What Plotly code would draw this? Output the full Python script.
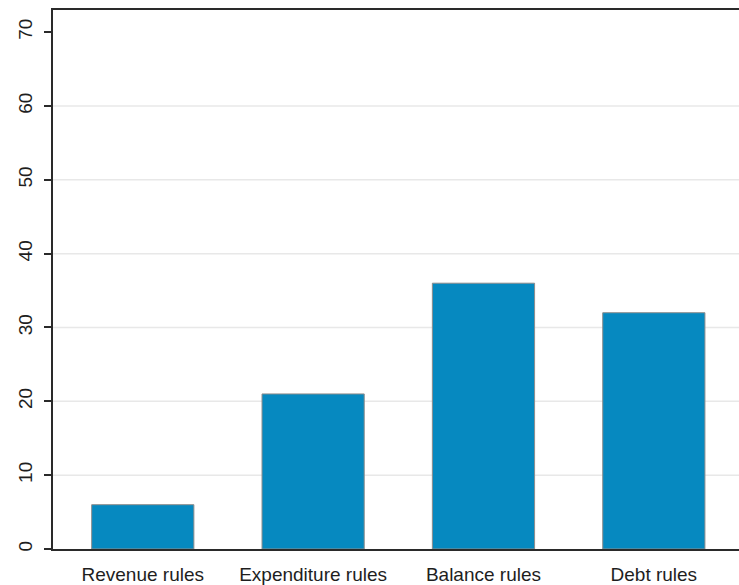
import plotly.graph_objects as go

# Number of rules by type
categories = ["Revenue rules", "Expenditure rules", "Balance rules", "Debt rules"]
counts = [6, 21, 36, 32]

y_ticks = [0, 10, 20, 30, 40, 50, 60, 70]
grid_values = [10, 20, 30, 40, 50, 60]

font_family = "Liberation Sans, Arial, sans-serif"
text_color = "#1e1e1e"

fig = go.Figure(
    go.Bar(
        x=list(range(len(categories))),
        y=counts,
        width=0.6,
        marker=dict(color="#0689c0", line=dict(color="#8c8c8c", width=1)),
        hoverinfo="skip",
    )
)

# light horizontal grid lines drawn beneath the bars
for v in grid_values:
    fig.add_shape(
        type="line", xref="paper", yref="y",
        x0=0, x1=1, y0=v, y1=v,
        line=dict(color="#e8e8e8", width=1.5),
        layer="below",
    )

fig.update_layout(
    width=739,
    height=585,
    margin=dict(l=53, r=0, t=10, b=31),
    paper_bgcolor="white",
    plot_bgcolor="white",
    showlegend=False,
    font=dict(family=font_family, size=19, color=text_color),
    bargap=0.4,
)

fig.update_xaxes(
    range=[-0.527, 3.5],
    tickmode="array",
    tickvals=list(range(len(categories))),
    ticktext=categories,
    showgrid=False,
    zeroline=False,
    showline=True,
    linecolor="#2a2a2a",
    linewidth=2,
    mirror=True,
    ticks="outside",
    ticklen=7,
    tickcolor="rgba(0,0,0,0)",
    tickfont=dict(size=19),
)

fig.update_yaxes(
    range=[0, 73],
    tickmode="array",
    tickvals=y_ticks,
    ticktext=[str(v) for v in y_ticks],
    tickangle=-90,
    showgrid=False,
    zeroline=False,
    showline=True,
    linecolor="#2a2a2a",
    linewidth=2,
    ticks="outside",
    ticklen=7,
    tickwidth=2,
    tickcolor="#2a2a2a",
    tickfont=dict(size=19),
    ticklabelstandoff=4,
)

fig.write_html("out.html")
